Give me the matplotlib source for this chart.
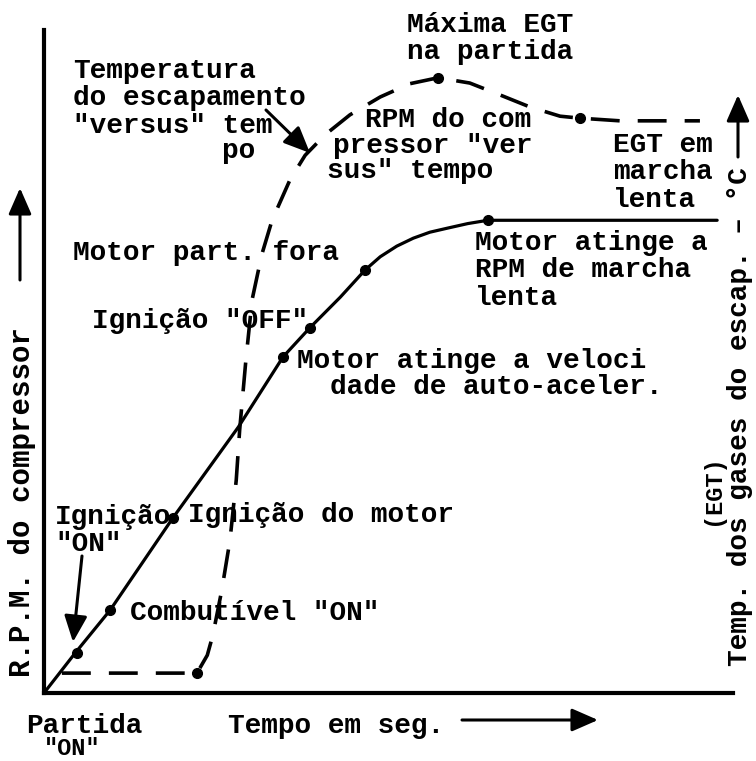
import matplotlib
matplotlib.use("Agg")
import matplotlib.pyplot as plt
from matplotlib.patches import FancyArrowPatch

W, H = 756, 761

# RPM do compressor (linha cheia), tempo 0-100, valor 0-100
rpm_t = [0, 4.5, 9.6, 18.7, 28.2, 34.7, 38.6, 43.0, 46.6, 48.8, 51.2, 53.6,
         56.0, 58.5, 61.5, 64.4, 73.4, 97.7]
rpm_v = [0, 6.0, 12.5, 26.4, 40.1, 50.7, 55.1, 59.7, 63.8, 65.8, 67.4, 68.6,
         69.5, 70.1, 70.8, 71.3, 71.3, 71.3]
rpm_mark_t = [4.8, 9.6, 18.7, 34.7, 38.6, 46.6, 64.4]
rpm_mark_v = [6.0, 12.5, 26.4, 50.7, 55.1, 63.8, 71.3]

# Temperatura dos gases de escapamento (EGT), tracejada
egt_t = [2.6, 22.2, 23.7, 24.5, 25.8, 27.0, 27.9, 28.4, 29.3, 30.2, 31.6, 33.1,
         35.7, 37.9, 40.8, 44.4, 48.8, 53.1, 57.2, 61.8, 66.2, 70.5, 74.9, 77.8,
         83.6, 95.2]
egt_v = [3.0, 3.0, 5.7, 8.7, 15.5, 23.1, 32.1, 39.7, 50.2, 59.3, 66.1, 71.3,
         77.4, 81.1, 84.2, 87.2, 89.9, 91.9, 92.8, 92.0, 90.2, 88.4, 87.0, 86.7,
         86.3, 86.3]
egt_mark_t = [22.2, 57.2, 77.8]
egt_mark_v = [3.0, 92.8, 86.7]


def px(x, y):
    return (x / W, 1 - y / H)


plt.rcParams["font.family"] = ["Liberation Mono", "DejaVu Sans Mono"]
FS = 20

fig = plt.figure(figsize=(W / 100, H / 100), dpi=100)
ax = fig.add_axes([44 / W, (H - 693) / H, 689 / W, 663 / H])
ax.set_xlim(0, 100)
ax.set_ylim(0, 100)
for s in ["top", "right"]:
    ax.spines[s].set_visible(False)
for s in ["left", "bottom"]:
    ax.spines[s].set_linewidth(3)
ax.set_xticks([])
ax.set_yticks([])

ax.plot(rpm_t, rpm_v, color="black", lw=2.3, solid_capstyle="round")
ax.plot(rpm_mark_t, rpm_mark_v, "o", color="black", ms=7)
ax.plot(egt_t, egt_v, color="black", lw=2.6, dashes=(8, 5))
ax.plot(egt_mark_t, egt_mark_v, "o", color="black", ms=7)

txt = dict(fontsize=FS, fontweight="bold", color="black", linespacing=1.07)


def label(x, y, s, **kw):
    opts = dict(txt)
    opts.update(kw)
    fig.text(*px(x, y), s, ha=opts.pop("ha", "left"), va=opts.pop("va", "top"), **opts)


label(407, 12, "Máxima EGT\nna partida")
label(73, 58, "Temperatura\ndo escapamento\n\"versus\" tem")
label(222, 138, "po")
label(365, 107, "RPM do com")
label(333, 133, "pressor \"ver")
label(327, 158, "sus\" tempo")
label(613, 132, "EGT em\nmarcha\nlenta")
label(475, 230, "Motor atinge a\nRPM de marcha\nlenta")
label(73, 240, "Motor part. fora")
label(92, 308, "Ignição \"OFF\"")
label(297, 348, "Motor atinge a veloci")
label(330, 374, "dade de auto-aceler.")
label(188, 502, "Ignição do motor")
label(55, 504, "Ignição\n\"ON\"")
label(130, 600, "Combutível \"ON\"")
label(26, 713, "Partida")
label(44, 737, "\"ON\"", fontsize=17)
label(228, 713, "Tempo em seg.")

label(22, 502, "R.P.M. do compressor", rotation=90, ha="center", va="center", fontsize=21)
label(740, 417, "Temp. dos gases do escap. – °C", rotation=90, ha="center", va="center")
label(713, 490, "(EGT)", rotation=90, ha="center", va="center", fontsize=17)

arrow = dict(arrowstyle="-|>,head_length=0.8,head_width=0.35", color="black", lw=2.2,
             shrinkA=0, shrinkB=0, mutation_scale=20)
for start, end in [((20, 280), (20, 188)), ((738, 157), (738, 95)),
                   ((462, 720), (598, 720)), ((266, 110), (310, 153)),
                   ((82, 556), (73, 642))]:
    fig.add_artist(FancyArrowPatch(px(*start), px(*end), transform=fig.transFigure, **arrow))

fig.savefig("out.png", dpi=100)
